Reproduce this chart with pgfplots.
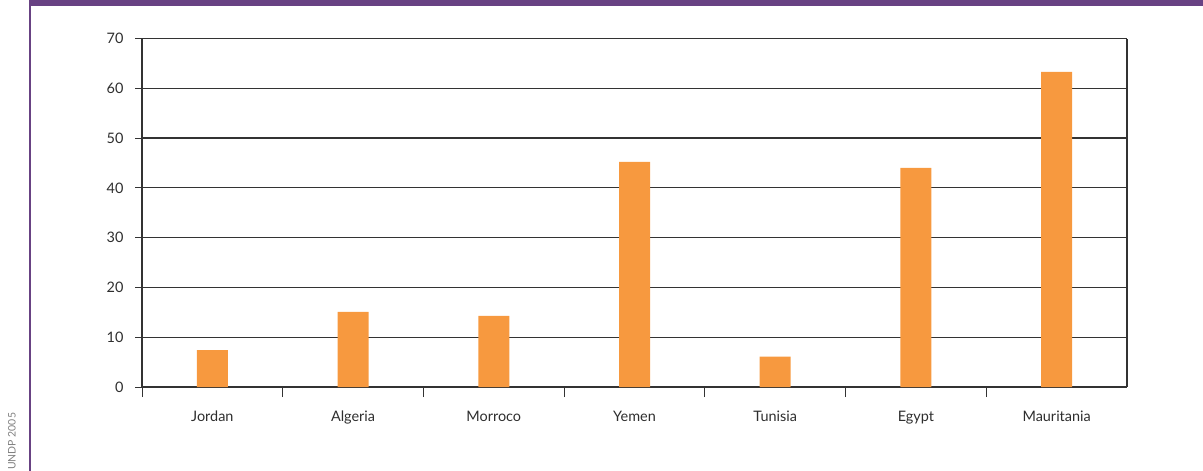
\documentclass[border=0pt]{standalone}
\usepackage{pgfplots}
\pgfplotsset{compat=1.18}
\usepackage{fontspec}
\setmainfont{Lato}
\definecolor{barorange}{HTML}{F7993F}
\definecolor{undppurple}{HTML}{684283}
\definecolor{txtgrey}{HTML}{2E2E2E}
\definecolor{linegrey}{HTML}{333333}

\begin{document}
\begin{tikzpicture}[x=1bp,y=1bp]
  % page frame and decorations
  \useasboundingbox (0,0) rectangle (1203,-471);
  \fill[undppurple] (29,0) rectangle (1203,-6.5);
  \fill[undppurple] (29,0) rectangle (30.5,-471);
  \node[rotate=90, anchor=west, inner sep=0pt, text=gray, font=\fontsize{10.5}{12}\selectfont]
    at (12,-470) {UNDP 2005};

  \begin{axis}[
      at={(142bp,-387bp)}, anchor=south west,
      scale only axis,
      width=985bp, height=348.5bp,
      ybar, bar width=31bp,
      xmin=-0.5, xmax=6.5,
      ymin=0, ymax=70,
      ytick={0,10,...,70},
      xtick={0,...,6},
      xticklabels={Jordan,Algeria,Morroco,Yemen,Tunisia,Egypt,Mauritania},
      minor xtick={-0.5,0.5,...,5.5},
      major x tick style={draw=none},
      minor x tick style={draw=linegrey, line width=1pt},
      minor tick length=10bp,
      major y tick style={draw=linegrey, line width=1pt},
      major tick length=7bp,
      tick align=outside,
      axis x line*=bottom,
      axis y line*=left,
      x axis line style={draw=linegrey, line width=2pt, -},
      y axis line style={draw=linegrey, line width=1.5pt, -},
      ymajorgrids,
      major grid style={draw=linegrey, line width=1.2pt},
      ticklabel style={text=txtgrey, font=\fontsize{14.5}{17}\selectfont},
      yticklabel style={xshift=-8bp},
      xticklabel style={yshift=-13bp, text height=11bp, text depth=3bp},
      /pgf/number format/assume math mode=true,
      clip=false,
    ]
    \addplot[draw=none, fill=barorange] coordinates {
      (0,7.4) (1,15.1) (2,14.3) (3,45.2) (4,6.1) (5,44.0) (6,63.3)
    };
    % right border line
    \draw[linegrey, line width=1.5pt] (axis cs:6.5,0) -- (axis cs:6.5,70);
  \end{axis}
\end{tikzpicture}
\end{document}
